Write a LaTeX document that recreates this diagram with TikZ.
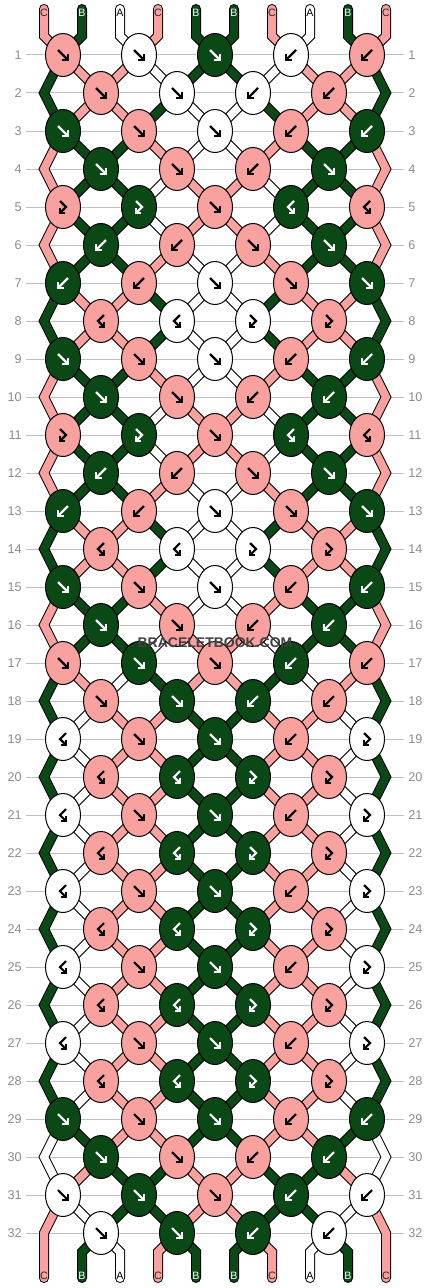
\documentclass[tikz,border=0pt]{standalone}
\usepackage{fontspec}
\setmainfont{Liberation Sans}
\usetikzlibrary{shapes.geometric}

\definecolor{strC}{RGB}{249,161,158}
\definecolor{strB}{RGB}{10,72,22}
\definecolor{strA}{RGB}{255,255,255}
\definecolor{guidegray}{RGB}{192,192,192}
\definecolor{numgray}{RGB}{140,140,140}

\pgfdeclarelayer{guides}
\pgfdeclarelayer{strands}
\pgfsetlayers{guides,strands,main}

% pics are drawn upright, so y points up inside them
\tikzset{
	strand/.style={draw=black, line width=0.75pt, double=str#1, double distance=6pt},
	knot/.style={ellipse, draw=black, line width=0.75pt, fill=str#1, minimum width=26.25pt, minimum height=32.25pt, inner sep=0pt},
	guide/.style={draw=guidegray, line width=0.75pt},
	rownum/.style={text=numgray, font=\fontsize{9.5}{11}\selectfont, inner sep=3pt},
	endlabel/.style={font=\fontsize{8}{9}\selectfont, inner sep=0pt},
	tipline/.style={line width=1.6pt, line join=miter},
	arrC/.style={black}, arrA/.style={black}, arrB/.style={white},
	labC/.style={text=black!85}, labA/.style={text=black}, labB/.style={text=white},
	arr f/.pic={\draw[tipline] (-5,5) -- (5,-5); \draw[tipline] (-1,-5) -- (5,-5) -- (5,1);},
	arr b/.pic={\draw[tipline] (5,5) -- (-5,-5); \draw[tipline] (1,-5) -- (-5,-5) -- (-5,1);},
	arr fb/.pic={\draw[tipline] (-3,6) -- (3,0) -- (-3,-6); \draw[tipline] (-3,-1) -- (-3,-6) -- (2,-6);},
	arr bf/.pic={\draw[tipline] (3,6) -- (-3,0) -- (3,-6); \draw[tipline] (3,-1) -- (3,-6) -- (-2,-6);}
}

\begin{document}
\begin{tikzpicture}[x=0.75pt,y=0.75pt,yscale=-1,xscale=1]
	\useasboundingbox (0,0) rectangle (430,1288);

	% row guides, numbered on both sides
	\begin{pgfonlayer}{guides}
	\foreach \rw in {1,...,32} {
		\node[rownum, anchor=east] (numl-\rw) at (26,17+38*\rw) {\rw};
		\node[rownum, anchor=west] (numr-\rw) at (404,17+38*\rw) {\rw};
		\draw[guide] (numl-\rw) -- (numr-\rw);
	}
	\end{pgfonlayer}

	% knots: colour / knot type
	\foreach \rw/\knots in {
		1/{C/f,A/f,B/f,A/b,C/b}, 2/{C/f,A/f,A/b,C/b},
		3/{B/f,C/f,A/f,C/b,B/b}, 4/{B/f,C/f,C/b,B/f},
		5/{C/fb,B/fb,C/f,B/bf,C/bf}, 6/{B/b,C/b,C/f,B/f},
		7/{B/b,C/b,A/f,C/f,B/f}, 8/{C/bf,A/bf,A/fb,C/fb},
		9/{B/f,C/f,A/f,C/b,B/b}, 10/{B/f,C/f,C/b,B/b},
		11/{C/fb,B/fb,C/f,B/bf,C/bf}, 12/{B/b,C/b,C/f,B/f},
		13/{B/b,C/b,A/f,C/f,B/f}, 14/{C/bf,A/bf,A/fb,C/fb},
		15/{B/f,C/f,A/f,C/b,B/b}, 16/{B/f,C/f,C/b,B/b},
		17/{C/f,B/f,C/f,B/b,C/b}, 18/{C/f,B/f,B/b,C/b},
		19/{A/bf,C/f,B/f,C/b,A/fb}, 20/{C/bf,B/bf,B/fb,C/fb},
		21/{A/bf,C/f,B/f,C/b,A/fb}, 22/{C/bf,B/bf,B/fb,C/fb},
		23/{A/bf,C/f,B/f,C/b,A/fb}, 24/{C/bf,B/bf,B/fb,C/fb},
		25/{A/bf,C/f,B/f,C/b,A/fb}, 26/{C/bf,B/bf,B/fb,C/fb},
		27/{A/bf,C/f,B/f,C/b,A/fb}, 28/{C/bf,B/bf,B/fb,C/fb},
		29/{B/f,C/f,B/f,C/b,B/b}, 30/{B/f,C/f,C/b,B/b},
		31/{A/f,B/f,C/f,B/b,A/b}, 32/{A/f,B/f,B/b,A/b}} {
		\foreach \col/\ty [count=\kn] in \knots {
			\pgfmathsetmacro\kx{76*\kn-13+38*iseven(\rw)}
			\node[knot=\col] (k-\rw-\kn) at (\kx,17+38*\rw) {};
			\pic[arr\col] at (k-\rw-\kn) {arr \ty};
		}
	}

	\begin{pgfonlayer}{strands}
	% strands between knots, colours after each row
	\foreach \rw/\cols in {
		1/{B,C,C,A,B,B,A,C,C,B}, 2/{B,C,C,B,A,A,B,C,C,B},
		3/{C,B,B,C,A,A,C,B,B,C}, 4/{C,B,B,A,C,C,A,B,B,C},
		5/{C,B,B,A,C,C,A,B,B,C}, 6/{C,B,B,C,A,A,C,B,B,C},
		7/{B,C,C,B,A,A,B,C,C,B}, 8/{B,C,C,B,A,A,B,C,C,B},
		9/{C,B,B,C,A,A,C,B,B,C}, 10/{C,B,B,A,C,C,A,B,B,C},
		11/{C,B,B,A,C,C,A,B,B,C}, 12/{C,B,B,C,A,A,C,B,B,C},
		13/{B,C,C,B,A,A,B,C,C,B}, 14/{B,C,C,B,A,A,B,C,C,B},
		15/{C,B,B,C,A,A,C,B,B,C}, 16/{C,B,B,A,C,C,A,B,B,C},
		17/{B,C,A,B,C,C,B,A,C,B}, 18/{B,A,C,C,B,B,C,C,A,B},
		19/{B,A,C,C,B,B,C,C,A,B}, 20/{B,A,C,C,B,B,C,C,A,B},
		21/{B,A,C,C,B,B,C,C,A,B}, 22/{B,A,C,C,B,B,C,C,A,B},
		23/{B,A,C,C,B,B,C,C,A,B}, 24/{B,A,C,C,B,B,C,C,A,B},
		25/{B,A,C,C,B,B,C,C,A,B}, 26/{B,A,C,C,B,B,C,C,A,B},
		27/{B,A,C,C,B,B,C,C,A,B}, 28/{B,A,C,C,B,B,C,C,A,B},
		29/{A,B,C,C,B,B,C,C,B,A}, 30/{A,C,B,B,C,C,B,B,C,A},
		31/{C,A,B,B,C,C,B,B,A,C}} {
		\pgfmathtruncatemacro\rn{\rw+1}
		\foreach \col [count=\pos] in \cols {
			\ifnum\pos>1 \ifnum\pos<10
				\pgfmathtruncatemacro\ka{(\pos+isodd(\rw))/2}
				\pgfmathtruncatemacro\kb{(\pos+isodd(\rn))/2}
				\draw[strand=\col] (k-\rw-\ka.center) -- (k-\rn-\kb.center);
			\fi\fi
		}
	}

	% edge strands turning at the even rows
	\foreach \rw/\col in {1/B,3/C,5/C,7/B,9/C,11/C,13/B,15/C,17/B,19/B,21/B,23/B,25/B,27/B,29/A} {
		\pgfmathtruncatemacro\rr{\rw+2}
		\coordinate (edgel-\rw) at (44,55+38*\rw);
		\coordinate (edger-\rw) at (386,55+38*\rw);
		\draw[strand=\col] (k-\rw-1.center) -- (edgel-\rw) -- (k-\rr-1.center);
		\draw[strand=\col] (k-\rw-5.center) -- (edger-\rw) -- (k-\rr-5.center);
	}
	\end{pgfonlayer}

	% loose ends with their letters
	\foreach \col [count=\pos] in {C,B,A,C,B,B,C,A,B,C} {
		\pgfmathtruncatemacro\ka{(\pos+1)/2}
		\pgfmathtruncatemacro\isedge{or(\pos==1,\pos==10)}
		\ifnum\isedge=1
			\def\src{k-31-\ka}\def\via{1233}
		\else
			\pgfmathtruncatemacro\kb{\pos/2}
			\def\src{k-32-\kb}\def\via{1252}
		\fi
		\coordinate (topend-\pos) at (6+38*\pos,9);
		\coordinate (botend-\pos) at (6+38*\pos,1278);
		\node[endlabel, lab\col] (toplab-\pos) at (6+38*\pos,13) {\col};
		\node[endlabel, lab\col] (botlab-\pos) at (6+38*\pos,1276) {\col};
		\begin{pgfonlayer}{strands}
		\draw[strand=\col, line cap=round] (topend-\pos) -- (6+38*\pos,36) -- (k-1-\ka.center);
		\draw[strand=\col, line cap=round] (\src.center) -- (6+38*\pos,\via) -- (botend-\pos);
		\end{pgfonlayer}
	}

	% Text Node
	\node[font=\bfseries\fontsize{10.5}{12}\selectfont, text=black!75] (logo) at (215,643) {BRACELETBOOK.COM};

\end{tikzpicture}
\end{document}
